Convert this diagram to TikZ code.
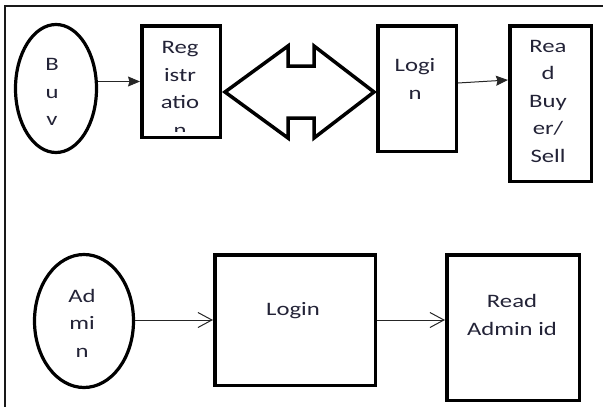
\documentclass[tikz,border=0pt]{standalone}
\usepackage{fontspec}
\setmainfont{Carlito}[FakeStretch=1.3]
\usetikzlibrary{arrows.meta,shapes.geometric}
\definecolor{txtcol}{RGB}{35,35,55}
\begin{document}
\begin{tikzpicture}[x=1pt,y=-1pt, line join=miter,
	box/.style={draw,line width=3.5pt,inner sep=0pt},
	oval/.style={draw,ellipse,line width=3.2pt,inner sep=0pt},
	lbl/.style={text=txtcol,align=center,inner sep=0pt,font=\fontsize{19}{27.5}\selectfont},
	arr/.style={-{Stealth[length=12pt,width=10pt,inset=1.5pt]},line width=1pt,draw=black!85},
	arrb/.style={-{Straight Barb[length=14pt,width=15pt]},line width=1pt,draw=black!85}]
	\useasboundingbox (0,0) rectangle (603,407);
	%khung
	\draw[line width=1.8pt,black!90] (5,407)--(5,6)--(603,6);
	%hang tren
	\node[oval,minimum width=81pt,minimum height=128pt] (buy) at (56,88.5) {};
	\node[lbl] (buyT) at (52,92) {B\\u\\v};
	\node[box,minimum width=78.5pt,minimum height=111.5pt] (reg) at (181,81.5) {};
	\begin{scope}
		\clip (143,28) rectangle (219,131);
		\node[lbl] (regT) at (180,89) {Reg\\istr\\atio\\n};
	\end{scope}
	\node[box,minimum width=78.5pt,minimum height=125.5pt] (login1) at (417,88.5) {};
	\node[lbl] (login1T) at (415,79) {Logi\\n};
	\node[box,minimum width=81.5pt,minimum height=155.5pt] (readB) at (550.5,103.5) {};
	\node[lbl] (readBT) at (548,101) {Rea\\d\\Buy\\er/\\Sell};
	%mui ten hai dau
	\draw[line width=3.5pt] (225,92)--(288,46)--(288,66)--(314,66)--(314,46)--(374,92)
		--(314,138)--(314,118)--(288,118)--(288,138)--cycle;
	\draw[arr] (buy.east |- reg.west)--(reg.west);
	\draw[arr] ([yshift=5.5pt]login1.east)--([yshift=23.5pt]readB.west);
	%hang duoi
	\node[oval,minimum width=99pt,minimum height=133pt] (admin) at (84,321) {};
	\node[lbl] (adminT) at (82,323) {Ad\\mi\\n};
	\node[box,minimum width=160.5pt,minimum height=130.5pt] (login2) at (295,320) {};
	\node[lbl] (login2T) at (293,311) {Login};
	\node[box,minimum width=132.5pt,minimum height=145.5pt] (readA) at (513,327.5) {};
	\node[lbl] (readAT) at (512,315) {Read\\Admin id};
	\draw[arrb] (admin.east |- login2.west)--(login2.west);
	\draw[arrb] (login2.east)--(login2.east -| readA.west);
\end{tikzpicture}
\end{document}
